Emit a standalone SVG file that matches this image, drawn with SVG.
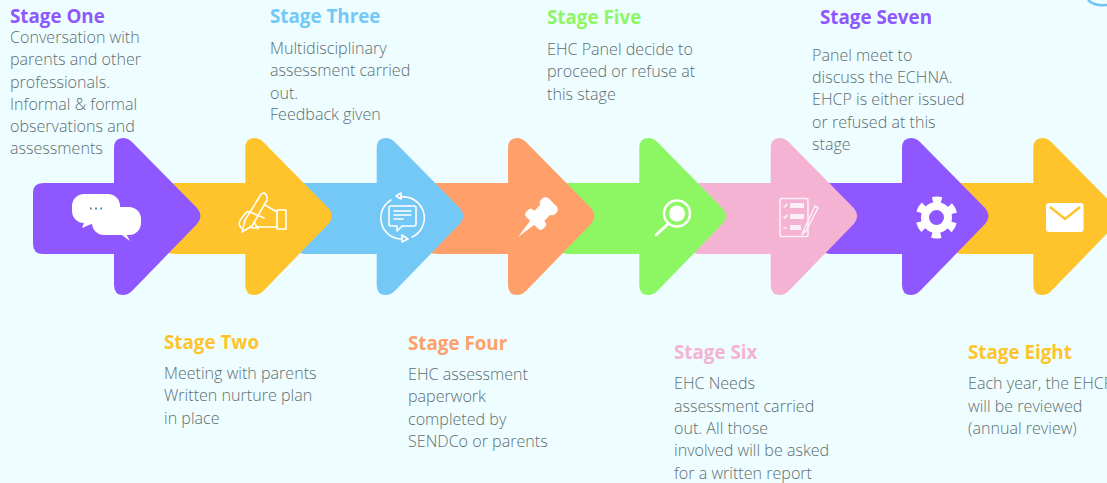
<svg xmlns="http://www.w3.org/2000/svg" width="1107" height="483" viewBox="0 0 1107 483">
<style>
.t{font-family:"Open Sans","Liberation Sans",sans-serif;font-size:18.8px;font-weight:700}
.b{font-family:"Open Sans","Liberation Sans",sans-serif;font-size:16.1px;font-weight:300;fill:#5f6d70}
.i{fill:none;stroke:#fff;stroke-width:1.6;stroke-linecap:round;stroke-linejoin:round}
.w{fill:#fff}
</style>
<defs>
<path id="arrow" d="M43 183H114V148Q114 138 123 138Q128 138 132 142L197 208Q204 216 197 224L132 291Q128 295 123 295Q114 295 114 285V254H43Q33 254 33 244V193Q33 183 43 183Z"/>
</defs>
<rect width="1107" height="483" fill="#eefdff"/>
<path d="M1088 0Q1094 6 1107 5" fill="none" stroke="#6fc4ef" stroke-width="2.5"/>
<g id="node8"><use href="#arrow" x="919.3" fill="#ffc42b"/><rect class="w" x="1046" y="203" width="37.500" height="29" rx="3"/><path d="M1050 207L1065 219L1080 207" fill="none" stroke="#ffc42b" stroke-width="2.500"/></g>
<g id="node7"><use href="#arrow" x="788" fill="#8f57ff"/><circle cx="936.500" cy="217.500" r="11.500" fill="none" stroke="#fff" stroke-width="8"/><circle cx="936.500" cy="217.500" r="18" fill="none" stroke="#fff" stroke-width="6" stroke-dasharray="9 9.850" transform="rotate(15.700 936.500 217.500)"/></g>
<g id="node6"><use href="#arrow" x="656.700" fill="#f5b3d3"/><g class="i" opacity=".8"><rect x="780" y="198.500" width="28" height="38" rx="1.500"/><path d="M802 234L815 206L818 208L806 231Z"/><path d="M784 206l1 1 2-3M784 217l1 1 2-3M784 228h2"/></g><g class="w" opacity=".8"><rect x="790" y="203" width="14" height="5"/><rect x="790" y="214" width="14" height="5"/><rect x="790" y="225" width="11" height="5"/></g></g>
<g id="node5"><use href="#arrow" x="525.300" fill="#8cf763"/><circle cx="677" cy="213.500" r="13" fill="none" stroke="#fff" stroke-width="2.500"/><circle cx="677" cy="213.500" r="8" class="w"/><path d="M668 224L656 235" stroke="#fff" stroke-width="3" stroke-linecap="round"/></g>
<g id="node4"><use href="#arrow" x="394" fill="#ffa06a"/><g class="w" transform="translate(518 237) rotate(-45)"><path d="M0 0L21 -3V3Z"/><rect x="20" y="-12" width="10" height="24" rx="4"/><rect x="28" y="-7" width="12" height="14"/><rect x="38" y="-10" width="11" height="20" rx="4.500"/></g></g>
<g id="node3"><use href="#arrow" x="262.700" fill="#73c8f5"/><g class="i"><path d="M401 197A21 21 0 0 1 412 237M402 239A21 21 0 0 1 391 200"/><path d="M401 193L396 196L401 199ZM402 235L408 239L402 242Z"/><path d="M391 206H414Q416 206 416 208V224Q416 226 414 226H402L397 231V226H391Q389 226 389 224V208Q389 206 391 206Z"/><path d="M394 211H411M394 215H411M394 219H403"/></g></g>
<g id="node2"><use href="#arrow" x="131.300" fill="#ffc42b"/><g class="i"><rect x="277" y="210" width="9" height="19"/><path d="M260 196L245 220L242 232L252 226L267 200Q268 195 264 193Q261 193 260 196Z"/><path d="M277 212L265 205M277 227H258Q254 229 250 227M264 218L250 212Q246 211 245 214Q240 219 239 224L241 228M254 222L258 229"/></g></g>
<g id="node1"><use href="#arrow" fill="#8f57ff"/><g class="w"><rect x="72" y="194" width="48" height="29" rx="12"/><rect x="92" y="207" width="49" height="28" rx="12"/><path d="M85 220L82 228L96 222ZM118 232L130 241L125 232Z"/></g><path d="M90 208.500h2M95 208.500h2M100 208.500h2" stroke="#5c92b0" stroke-width="2"/></g>
<g id="labels">
<text class="t" x="10" y="23" fill="#8f57ff">Stage One</text>
<text class="b"><tspan x="10" y="43">Conversation with</tspan><tspan x="10" y="65">parents and other</tspan><tspan x="10" y="88">professionals.</tspan><tspan x="10" y="110">Informal &amp; formal</tspan><tspan x="10" y="132">observations and</tspan><tspan x="10" y="154">assessments</tspan></text>
<text class="t" x="270" y="23" fill="#73c8f5">Stage Three</text>
<text class="b"><tspan x="270" y="54">Multidisciplinary</tspan><tspan x="270" y="76">assessment carried</tspan><tspan x="270" y="99">out.</tspan><tspan x="270" y="120">Feedback given</tspan></text>
<text class="t" x="547" y="24" fill="#8cf763">Stage Five</text>
<text class="b"><tspan x="547" y="55">EHC Panel decide to</tspan><tspan x="547" y="77">proceed or refuse at</tspan><tspan x="547" y="100">this stage</tspan></text>
<text class="t" x="820" y="24" fill="#8f57ff">Stage Seven</text>
<text class="b"><tspan x="812" y="61">Panel meet to</tspan><tspan x="812" y="83">discuss the ECHNA.</tspan><tspan x="812" y="105">EHCP is either issued</tspan><tspan x="812" y="128">or refused at this</tspan><tspan x="812" y="150">stage</tspan></text>
<text class="t" x="164" y="349" fill="#ffc42b">Stage Two</text>
<text class="b"><tspan x="164" y="379">Meeting with parents</tspan><tspan x="164" y="401">Written nurture plan</tspan><tspan x="164" y="424">in place</tspan></text>
<text class="t" x="408" y="350" fill="#ffa06a">Stage Four</text>
<text class="b"><tspan x="408" y="380">EHC assessment</tspan><tspan x="408" y="402">paperwork</tspan><tspan x="408" y="425">completed by</tspan><tspan x="408" y="447">SENDCo or parents</tspan></text>
<text class="t" x="674" y="358.500" fill="#f5b3d3">Stage Six</text>
<text class="b"><tspan x="674" y="389">EHC Needs</tspan><tspan x="674" y="412">assessment carried</tspan><tspan x="674" y="434">out. All those</tspan><tspan x="674" y="456">involved will be asked</tspan><tspan x="674" y="479">for a written report</tspan></text>
<text class="t" x="968" y="358.500" fill="#ffc42b">Stage Eight</text>
<text class="b"><tspan x="968" y="389">Each year, the EHCP</tspan><tspan x="968" y="412">will be reviewed</tspan><tspan x="968" y="434">(annual review)</tspan></text>
</g>
</svg>
